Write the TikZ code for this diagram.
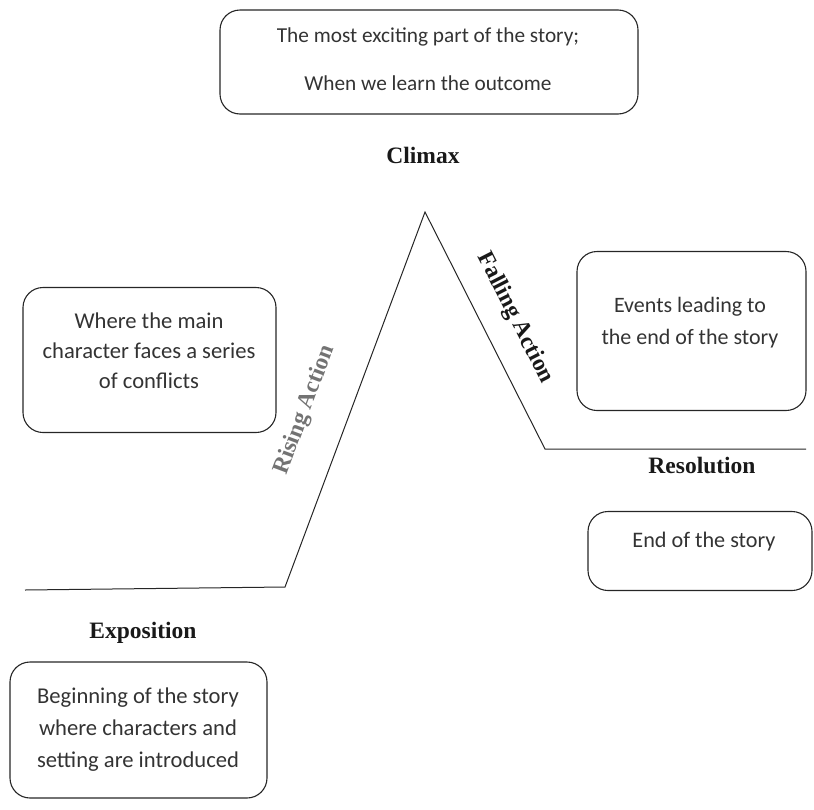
\documentclass[tikz,border=0pt]{standalone}
\usepackage{fontspec}
\setmainfont{Carlito}
\newfontfamily\labelfont{Liberation Serif}
\begin{document}
\begin{tikzpicture}[x=1pt,y=-1pt,
  box/.style={draw=black!85,line width=1.1pt,rounded corners=20pt,inner sep=0pt},
  boxtext/.style={align=center,text=black!80,inner sep=0pt},
  stage/.style={font=\labelfont\bfseries\fontsize{23.5}{25}\selectfont,text=black!90},
  plot/.style={draw=black!85,line width=1pt}]
\useasboundingbox (0,0) rectangle (814,809);
% boxes
\node[box,minimum width=418pt,minimum height=104pt] (climaxbox) at (429,62) {};
\node[box,minimum width=253pt,minimum height=145pt] (risebox) at (149.5,360) {};
\node[box,minimum width=229pt,minimum height=159pt] (fallbox) at (691.5,331) {};
\node[box,minimum width=224pt,minimum height=79pt] (resbox) at (700,551) {};
\node[box,minimum width=257pt,minimum height=136pt] (expbox) at (138.5,730) {};
% box texts
\node[boxtext,font=\fontsize{21.3}{48}\selectfont] (climaxtext) at (428,59)
  {The most exciting part of the story;\\When we learn the outcome};
\node[boxtext,font=\fontsize{22.6}{30}\selectfont] (risetext) at (149,351)
  {Where the main\\character faces a series\\of conflicts};
\node[boxtext,font=\fontsize{22}{32}\selectfont] (falltext) at (690,323)
  {Events leading to\\the end of the story};
\node[boxtext,font=\fontsize{22.2}{30}\selectfont] (restext) at (704,542)
  {End of the story};
\node[boxtext,font=\fontsize{22.6}{32}\selectfont] (exptext) at (138,730)
  {Beginning of the story\\where characters and\\setting are introduced};
% labels
\node[stage] (climax) at (423,155) {Climax};
\node[stage] (resolution) at (702,465) {Resolution};
\node[stage] (exposition) at (143,633) {Exposition};
% plot line
\coordinate (p0) at (25,590);
\coordinate (p1) at (285,587);
\coordinate (p2) at (425,212);
\coordinate (p3) at (545,449);
\coordinate (p4) at (806,449);
\draw[plot] (p0) -- (p1) -- (p2) -- (p3) -- (p4);
\node[stage,text=black!55,rotate=69.5] (rising) at (305,410) {Rising Action};
\node[stage,rotate=-63] (falling) at (515,318) {Falling Action};
\end{tikzpicture}
\end{document}
